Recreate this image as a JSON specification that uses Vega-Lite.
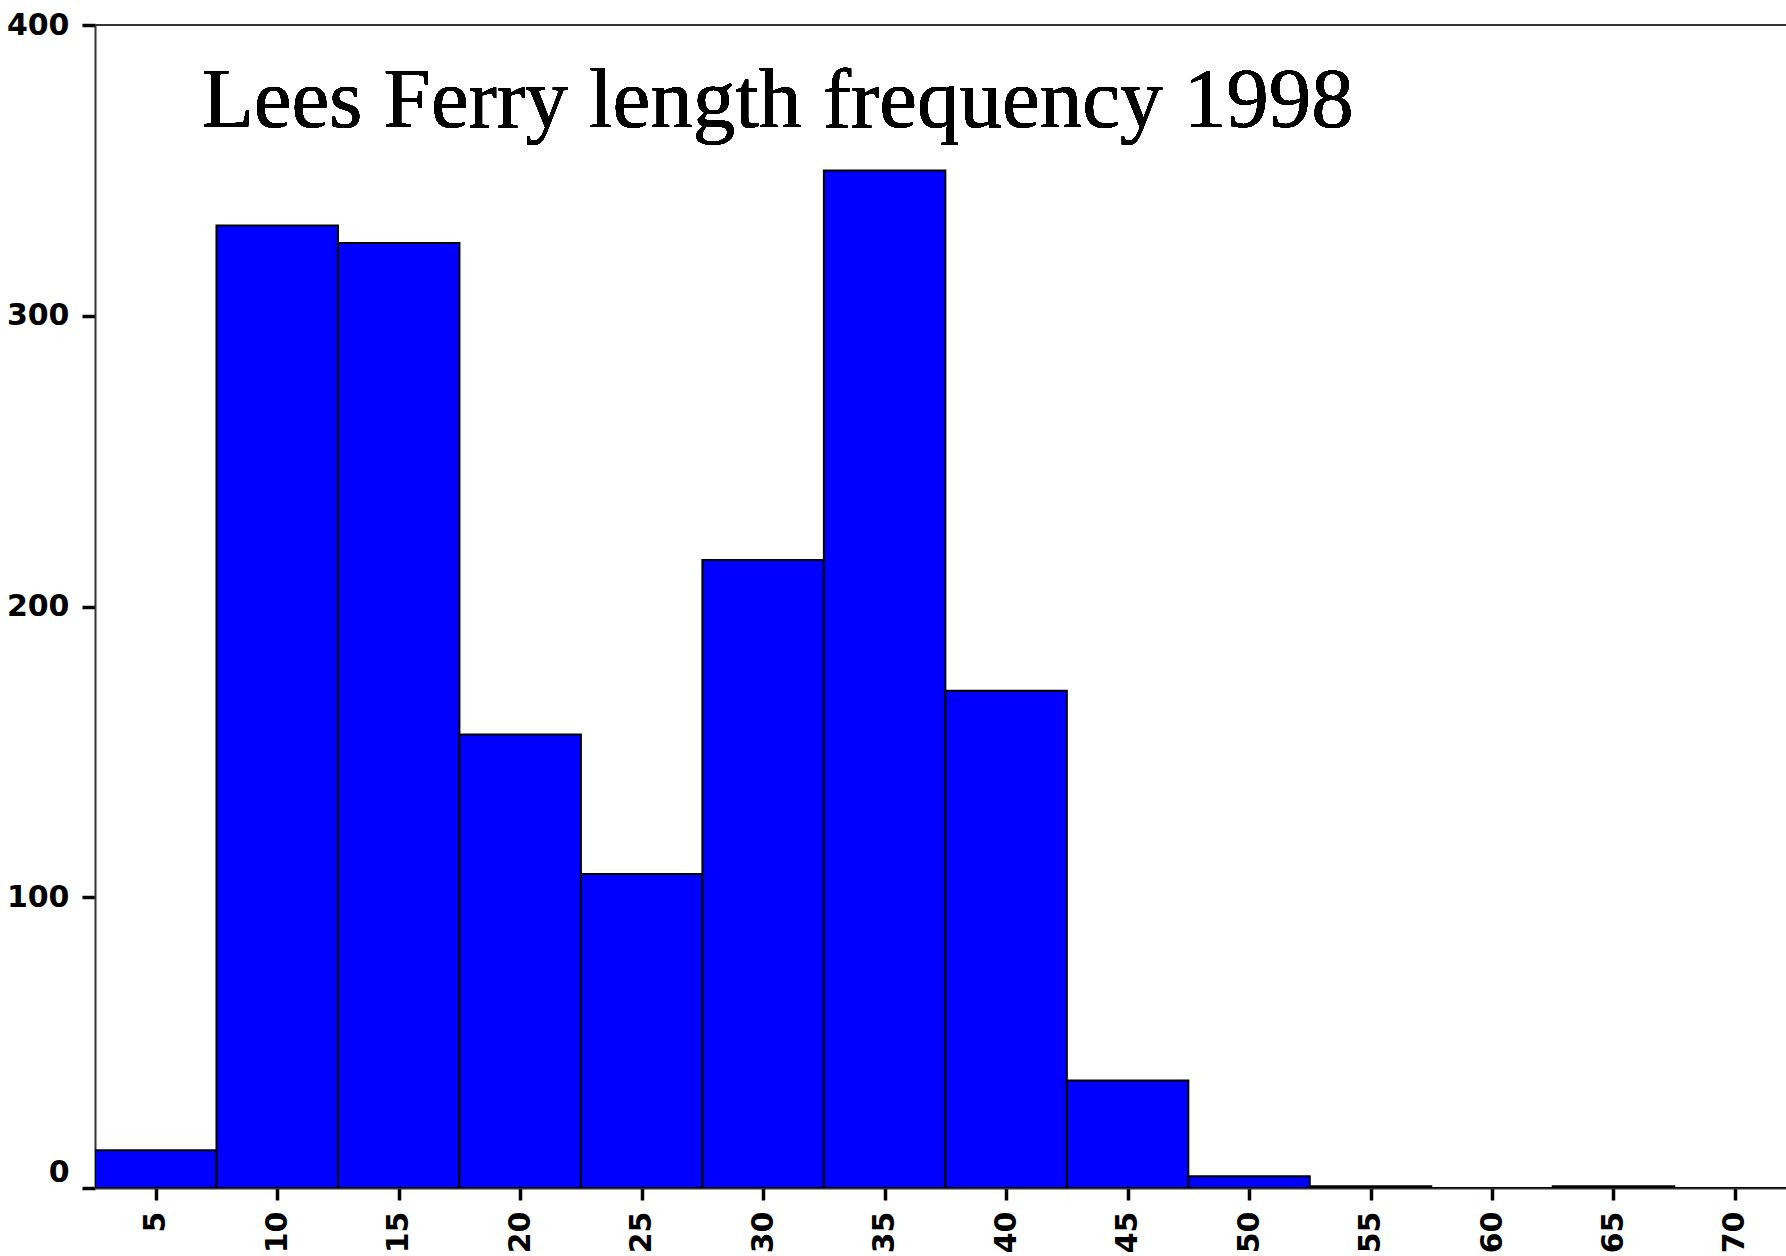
{
  "$schema": "https://vega.github.io/schema/vega-lite/v6.json",
  "autosize": "none",
  "padding": {"left": 95, "top": 25, "right": 0, "bottom": 68},
  "width": 1691,
  "height": 1163,
  "background": "white",
  "config": {
    "view": {"stroke": null},
    "axis": {
      "grid": false,
      "domainColor": "#333333",
      "domainWidth": 2,
      "tickColor": "black",
      "tickWidth": 3.5,
      "labelFont": "DejaVu Sans",
      "labelFontWeight": "bold",
      "labelFontSize": 30,
      "labelColor": "black",
      "title": null
    }
  },
  "data": {
    "values": [
      {"start": 2.5, "end": 7.5, "count": 13},
      {"start": 7.5, "end": 12.5, "count": 331},
      {"start": 12.5, "end": 17.5, "count": 325},
      {"start": 17.5, "end": 22.5, "count": 156},
      {"start": 22.5, "end": 27.5, "count": 108},
      {"start": 27.5, "end": 32.5, "count": 216},
      {"start": 32.5, "end": 37.5, "count": 350},
      {"start": 37.5, "end": 42.5, "count": 171},
      {"start": 42.5, "end": 47.5, "count": 37},
      {"start": 47.5, "end": 52.5, "count": 4},
      {"start": 52.5, "end": 57.5, "count": 0.6},
      {"start": 57.5, "end": 62.5, "count": 0},
      {"start": 62.5, "end": 67.5, "count": 0.6},
      {"start": 67.5, "end": 72.5, "count": 0}
    ]
  },
  "layer": [
    {
      "mark": {"type": "bar", "color": "#0000FF", "stroke": "black", "strokeWidth": 2, "clip": true},
      "encoding": {
        "x": {
          "field": "start", "type": "quantitative",
          "scale": {"domain": [2.5, 72.1], "nice": false, "zero": false},
          "axis": {
            "values": [5, 10, 15, 20, 25, 30, 35, 40, 45, 50, 55, 60, 65, 70],
            "labelAngle": -90,
            "tickSize": 12,
            "labelPadding": 11
          }
        },
        "x2": {"field": "end"},
        "y": {
          "field": "count", "type": "quantitative",
          "scale": {"domain": [0, 400], "nice": false},
          "axis": {
            "values": [0, 100, 200, 300, 400],
            "tickSize": 13,
            "labelPadding": 13,
            "labelOffset": {"condition": {"test": "datum.value === 0", "value": -16}, "value": 0}
          }
        },
        "y2": {"datum": 0}
      }
    },
    {
      "mark": {"type": "rule", "color": "#333333", "strokeWidth": 2},
      "encoding": {"y": {"datum": 400}}
    },
    {
      "mark": {
        "type": "text",
        "text": "Lees Ferry length frequency 1998",
        "align": "left",
        "baseline": "alphabetic",
        "font": "Liberation Serif",
        "fontSize": 85,
        "color": "black"
      },
      "encoding": {
        "x": {"datum": 6.9},
        "y": {"datum": 365}
      }
    }
  ]
}
